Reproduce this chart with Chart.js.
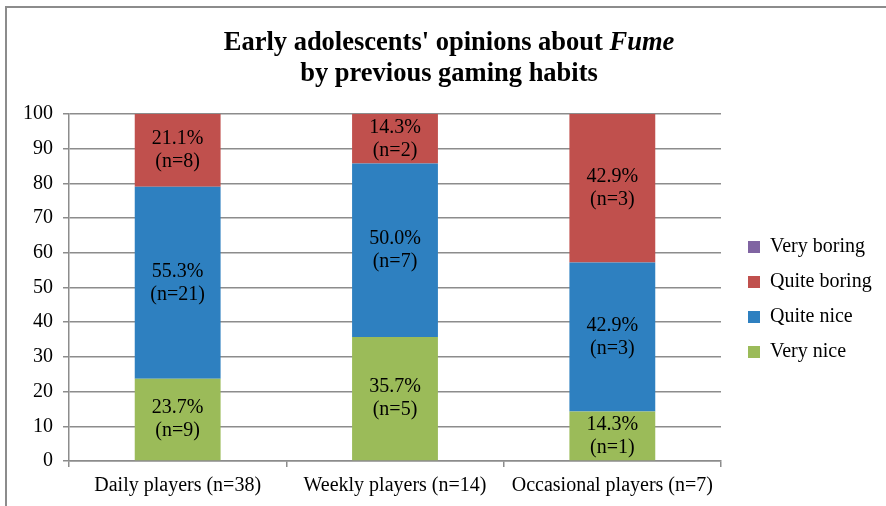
<!DOCTYPE html>
<html>
<head>
<meta charset="utf-8">
<script src="https://cdn.jsdelivr.net/npm/chart.js@4"></script>
<style>
  html, body { margin: 0; padding: 0; background: #fff; }
  #wrap { width: 886px; height: 506px; position: relative; }
</style>
</head>
<body>
<div id="wrap"><canvas id="chart"></canvas></div>
<script>
// data
const categories = ["Daily players (n=38)", "Weekly players (n=14)", "Occasional players (n=7)"];
const seriesNames = ["Very nice", "Quite nice", "Quite boring", "Very boring"];
const veryNice = [23.7, 35.7, 14.3];
const quiteNice = [55.3, 50.0, 42.9];
const quiteBoring = [21.1, 14.3, 42.9];
const veryBoring = [0, 0, 0];
const veryNiceN = [9, 5, 1];
const quiteNiceN = [21, 7, 3];
const quiteBoringN = [8, 2, 3];
const veryBoringN = [0, 0, 0];
const yTicks = [0, 10, 20, 30, 40, 50, 60, 70, 80, 90, 100];
const titleLine1 = [["Early adolescents' opinions about ", false], ["Fume", true]];
const titleLine2 = [["by previous gaming habits", false]];

const serif = "'Liberation Serif', 'Times New Roman', serif";
const gridColor = "#8c8c8c";
const counts = [veryNiceN, quiteNiceN, quiteBoringN, veryBoringN];

// frame around the whole chart
const framePlugin = {
  id: "frame",
  beforeDraw(chart) {
    const ctx = chart.ctx;
    ctx.save();
    ctx.fillStyle = "#fff";
    ctx.fillRect(0, 0, chart.width, chart.height);
    ctx.strokeStyle = gridColor;
    ctx.lineWidth = 2;
    ctx.strokeRect(6, 7, chart.width + 20, chart.height + 20);
    ctx.restore();
  }
};

// two line title with an italic word
const titlePlugin = {
  id: "mixedTitle",
  afterDraw(chart) {
    const ctx = chart.ctx;
    const lines = [titleLine1, titleLine2];
    const baselines = [50, 81];
    const cx = 449;
    ctx.save();
    ctx.fillStyle = "#000";
    ctx.textBaseline = "alphabetic";
    ctx.textAlign = "left";
    lines.forEach((parts, li) => {
      let total = 0;
      const widths = parts.map(([txt, it]) => {
        ctx.font = (it ? "italic " : "") + "bold 26.5px " + serif;
        const w = ctx.measureText(txt).width;
        total += w;
        return w;
      });
      let x = cx - total / 2;
      parts.forEach(([txt, it], k) => {
        ctx.font = (it ? "italic " : "") + "bold 26.5px " + serif;
        ctx.fillText(txt, x, baselines[li]);
        x += widths[k];
      });
    });
    ctx.restore();
  }
};

// percentage and n inside each segment
const labelPlugin = {
  id: "segmentLabels",
  afterDatasetsDraw(chart) {
    const ctx = chart.ctx;
    ctx.save();
    ctx.font = "20px " + serif;
    ctx.fillStyle = "#000";
    ctx.textAlign = "center";
    ctx.textBaseline = "middle";
    chart.data.datasets.forEach((ds, i) => {
      const meta = chart.getDatasetMeta(i);
      meta.data.forEach((bar, j) => {
        const v = ds.data[j];
        if (!v) return;
        const y = (bar.y + bar.base) / 2;
        ctx.fillText(v.toFixed(1) + "%", bar.x, y - 11.5);
        ctx.fillText("(n=" + counts[i][j] + ")", bar.x, y + 11.5);
      });
    });
    ctx.restore();
  }
};

new Chart(document.getElementById("chart"), {
  type: "bar",
  data: {
    labels: categories,
    datasets: [
      { label: seriesNames[0], data: veryNice, backgroundColor: "#9bbb59" },
      { label: seriesNames[1], data: quiteNice, backgroundColor: "#2e80c0" },
      { label: seriesNames[2], data: quiteBoring, backgroundColor: "#c0504d" },
      { label: seriesNames[3], data: veryBoring, backgroundColor: "#8064a2" },
    ],
  },
  options: {
    responsive: true,
    maintainAspectRatio: false,
    animation: false,
    datasets: { bar: { categoryPercentage: 1, barPercentage: 0.395, borderWidth: 0 } },
    layout: { padding: { top: 114, left: 13, right: 9, bottom: 1 } },
    plugins: {
      title: { display: false },
      tooltip: { enabled: false },
      legend: {
        position: "right",
        fullSize: false,
        reverse: true,
        title: { display: true, text: "", padding: 0, font: { size: 24, lineHeight: 1 } },
        labels: {
          boxWidth: 12,
          boxHeight: 12,
          padding: 15,
          color: "#000",
          font: { family: serif, size: 20 },
        },
      },
    },
    scales: {
      x: {
        stacked: true,
        grid: { display: true, drawOnChartArea: false, tickLength: 6, color: gridColor, lineWidth: 1.5 },
        border: { color: gridColor, width: 1.5 },
        ticks: { color: "#000", font: { family: serif, size: 20, lineHeight: 1 }, padding: 9, maxRotation: 0 },
      },
      y: {
        stacked: true,
        min: 0,
        max: 100,
        afterBuildTicks: (scale) => { scale.ticks = yTicks.map((v) => ({ value: v })); },
        grid: { color: gridColor, lineWidth: 1.5, tickLength: 6 },
        border: { color: gridColor, width: 1.5 },
        ticks: { color: "#000", font: { family: serif, size: 20 }, padding: 10 },
      },
      gap: {
        type: "linear",
        position: "right",
        display: true,
        grid: { display: false },
        border: { display: false },
        ticks: { display: false },
        afterFit: (scale) => { scale.width = 12; },
      },
    },
  },
  plugins: [framePlugin, titlePlugin, labelPlugin],
});
</script>
</body>
</html>
